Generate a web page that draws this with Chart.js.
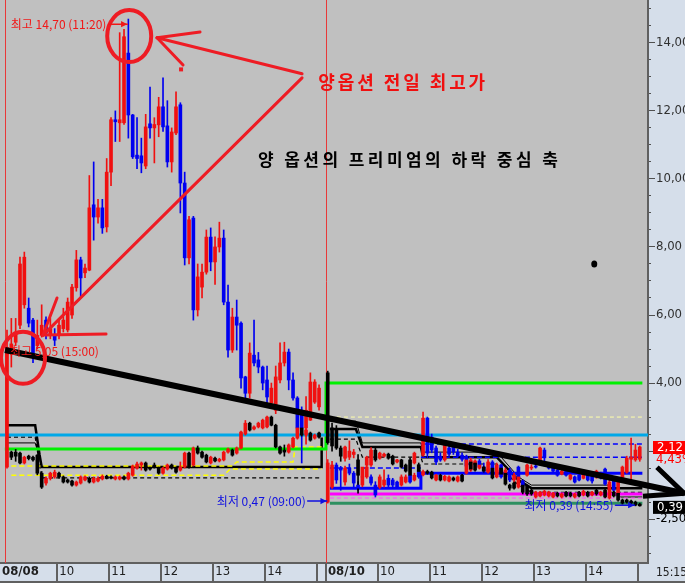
<!DOCTYPE html>
<html><head><meta charset="utf-8">
<script src="https://cdn.jsdelivr.net/npm/chart.js@4.4.1/dist/chart.umd.min.js"></script>
<style>html,body{margin:0;padding:0;background:#d5deea;overflow:hidden}canvas{display:block}</style>
</head><body><canvas id="c" width="685" height="583"></canvas>
<script>
// ---------- DATA ----------
// 5-minute candles [open, high, low, close]; day 1 = 08/08, day 2 = 08/10 (09:00 .. 15:00)
const callDay1 = [
[4.85,5.56,4.68,5.05],[5.0,5.9,4.47,5.15],[5.2,5.9,5.1,5.5],[5.7,7.7,5.6,7.5],[6.3,7.85,6.2,7.7],
[6.2,6.5,5.65,5.76],[5.85,5.9,4.6,4.88],[5.1,5.85,5.0,5.4],[5.4,6.3,5.35,5.7],[5.85,5.95,5.3,5.47],
[5.4,5.9,5.3,5.6],[5.41,5.6,5.1,5.26],[5.4,5.85,5.3,5.7],[5.6,6.2,5.5,5.85],[5.56,6.5,5.5,6.38],
[6.0,6.9,5.9,6.82],[6.8,7.9,6.7,7.62],[7.62,7.7,6.53,7.09],[7.24,7.5,7.1,7.38],[7.32,10.1,7.3,9.15],
[9.24,10.5,8.2,8.88],[8.88,9.4,8.7,9.15],[9.15,9.4,8.4,8.56],[8.59,10.6,8.44,10.2],[10.2,11.8,9.8,11.74],
[11.74,12.0,11.1,11.68],[11.65,14.3,11.1,11.74],[11.65,14.4,11.6,14.18],[13.7,14.7,11.2,11.88],[11.88,11.9,10.6,10.65],
[10.7,11.8,10.3,10.6],[10.68,11.2,10.18,10.47],[10.38,11.9,10.3,11.53],[11.62,12.7,11.2,11.5],[11.5,11.8,10.47,11.6],
[11.59,12.4,11.24,12.12],[12.12,12.97,11.4,11.53],[11.56,12.3,10.35,10.5],[10.5,11.5,10.2,11.38],[11.35,12.56,11.3,12.12],
[12.18,12.24,9.0,9.88],[9.88,10.2,7.47,7.68],[7.68,8.9,7.5,8.8],[8.85,8.9,5.85,6.15],[6.15,7.5,5.97,7.12],
[6.82,7.5,6.5,7.26],[7.26,8.5,7.2,8.29],[8.29,8.56,7.3,7.56],[7.56,8.3,6.9,8.0],[8.0,8.73,7.85,8.26],
[8.26,8.5,6.3,6.38],[6.38,6.88,4.76,4.97],[4.97,6.2,4.9,5.94],[5.94,6.44,4.97,5.7],[5.76,5.8,3.85,4.15],
[4.18,4.2,3.5,3.7],[3.7,5.18,3.56,4.88],[4.82,5.85,4.5,4.59],[4.68,4.9,4.3,4.47],[4.47,4.5,3.8,4.0],
[4.09,4.5,3.3,3.59],[3.41,4.0,3.3,3.85],[3.2,4.5,3.1,4.18],[4.09,5.18,4.0,4.59],[4.59,5.2,4.5,4.91],
[4.91,5.0,3.8,4.09],[4.09,4.3,3.5,3.56],[3.56,3.6,2.5,2.68],[3.2,3.3,1.65,2.68],[2.68,3.6,2.2,3.2],
[2.91,4.3,2.9,4.03],[3.44,4.1,3.4,4.03],[3.3,3.95,3.2,3.85]];
const putDay1 = [
[1.53,5.05,1.5,4.9],[1.97,2.0,1.75,1.82],[1.97,2.05,1.7,1.85],[1.94,1.97,1.62,1.65],[1.65,1.85,1.62,1.82],
[1.85,1.88,1.74,1.78],[1.82,1.85,1.7,1.74],[1.88,1.9,1.3,1.35],[1.35,1.4,0.9,0.94],[1.06,1.24,1.0,1.2],
[1.2,1.38,1.15,1.35],[1.24,1.44,1.2,1.38],[1.35,1.38,1.2,1.24],[1.24,1.27,1.06,1.09],[1.15,1.18,1.06,1.09],
[1.12,1.15,0.97,1.0],[1.0,1.12,0.97,1.09],[1.06,1.27,1.03,1.24],[1.15,1.27,1.12,1.24],[1.2,1.24,1.06,1.09],
[1.09,1.24,1.06,1.2],[1.12,1.24,1.09,1.2],[1.18,1.3,1.15,1.26],[1.26,1.29,1.18,1.2],[1.24,1.27,1.18,1.21],
[1.18,1.27,1.15,1.24],[1.18,1.27,1.15,1.24],[1.24,1.27,1.15,1.18],[1.18,1.38,1.15,1.35],[1.29,1.59,1.26,1.56],
[1.5,1.68,1.47,1.62],[1.59,1.68,1.44,1.65],[1.65,1.68,1.41,1.44],[1.5,1.53,1.44,1.47],[1.59,1.65,1.5,1.53],
[1.5,1.53,1.32,1.35],[1.35,1.53,1.32,1.5],[1.47,1.62,1.44,1.59],[1.59,1.62,1.47,1.5],[1.5,1.53,1.35,1.38],
[1.44,1.68,1.41,1.53],[1.53,1.97,1.5,1.94],[1.94,1.97,1.5,1.53],[1.59,2.12,1.56,2.09],[2.09,2.15,1.91,1.94],
[1.97,2.0,1.79,1.82],[1.88,1.91,1.65,1.68],[1.65,1.85,1.62,1.82],[1.79,1.82,1.68,1.71],[1.71,1.79,1.68,1.76],
[1.74,2.0,1.71,1.97],[1.97,2.09,1.94,2.06],[2.03,2.06,1.85,1.88],[1.94,2.12,1.91,2.09],[2.09,2.59,2.06,2.56],
[2.5,2.9,2.47,2.82],[2.82,2.85,2.59,2.62],[2.65,2.74,2.62,2.71],[2.71,2.85,2.68,2.82],[2.68,2.94,2.65,2.91],
[2.71,3.03,2.68,3.0],[3.0,3.03,2.74,2.76],[2.76,2.79,2.09,2.12],[2.12,2.15,1.91,1.94],[2.03,2.18,1.85,1.97],
[1.97,2.21,1.94,2.18],[2.12,2.41,2.09,2.38],[2.38,2.71,2.35,2.68],[2.68,2.71,2.44,2.47],[2.47,2.65,2.44,2.62],
[2.53,2.56,2.29,2.32],[2.38,2.5,2.35,2.47],[2.53,2.56,2.38,2.41]];
const callDay2 = [
[0.5,1.75,0.47,1.65],[0.94,1.7,0.9,1.59],[1.59,1.65,1.05,1.15],[1.5,1.55,0.85,1.44],[1.09,1.56,1.0,1.5],
[1.5,1.62,1.3,1.35],[1.35,1.4,0.95,1.06],[1.0,1.1,0.85,0.91],[1.0,1.3,0.95,1.24],[1.24,1.6,1.2,1.53],
[1.24,1.3,1.0,1.06],[1.0,1.1,0.65,0.71],[0.94,1.3,0.9,1.24],[1.0,1.45,0.95,1.15],[1.2,1.3,0.95,1.0],
[1.15,1.2,0.9,1.0],[1.09,1.12,0.9,0.94],[1.0,1.3,0.97,1.24],[1.09,1.3,1.06,1.24],[1.29,1.35,1.06,1.09],
[1.15,1.35,1.12,1.29],[1.44,1.5,1.2,1.24],[1.88,3.15,1.85,2.97],[2.97,3.0,1.8,1.94],[2.41,2.5,1.95,2.03],
[2.09,2.15,1.6,1.68],[1.85,1.95,1.7,1.74],[1.74,2.3,1.7,2.21],[2.09,2.15,1.85,1.91],[2.12,2.2,1.9,1.97],
[1.97,2.05,1.82,1.85],[1.88,1.95,1.7,1.76],[1.85,1.88,1.5,1.56],[1.44,1.8,1.4,1.74],[1.62,1.74,1.55,1.71],
[1.71,1.76,1.5,1.53],[1.53,1.65,1.35,1.41],[1.41,1.75,1.38,1.68],[1.68,1.72,1.3,1.35],[1.35,1.65,1.3,1.59],
[1.59,1.62,1.2,1.24],[1.24,1.5,1.2,1.44],[1.44,1.5,1.1,1.15],[1.15,1.35,1.05,1.29],[1.53,1.56,1.18,1.21],
[1.12,1.15,0.91,0.97],[1.29,1.62,1.26,1.59],[1.5,1.6,1.45,1.53],[1.56,1.62,1.5,1.53],[1.68,2.12,1.62,2.09],
[2.03,2.09,1.56,1.8],[1.59,1.65,1.47,1.5],[1.5,1.55,1.38,1.41],[1.44,1.5,1.26,1.29],[1.32,1.47,1.3,1.41],
[1.41,1.44,1.26,1.29],[1.18,1.32,1.15,1.29],[1.24,1.27,1.06,1.09],[1.29,1.32,1.12,1.15],[1.2,1.38,1.18,1.35],
[1.29,1.32,1.12,1.15],[1.29,1.32,1.06,1.12],[1.24,1.44,1.2,1.41],[1.35,1.38,1.18,1.21],[1.47,1.5,1.0,1.03],
[0.94,1.15,0.9,1.09],[1.15,1.2,0.82,0.85],[0.71,1.12,0.68,1.09],[1.21,1.56,1.15,1.53],[1.38,1.85,1.35,1.79],
[1.76,2.38,1.15,1.82],[1.74,2.2,1.7,2.03],[1.76,2.15,1.7,2.12]];
const putDay2 = [
[4.3,4.35,2.2,2.25],[2.68,2.82,2.0,2.15],[2.62,2.75,2.05,2.09],[2.09,2.15,1.7,1.85],[1.79,2.15,1.7,2.12],
[1.82,2.3,1.75,2.0],[1.9,2.05,1.8,1.97],[1.74,1.9,0.76,1.29],[1.24,1.4,1.15,1.53],[1.59,1.85,1.55,1.82],
[1.59,2.1,1.55,2.03],[2.03,2.1,1.7,1.74],[1.79,1.97,1.76,1.94],[1.85,1.94,1.82,1.91],[1.91,1.94,1.76,1.79],
[1.85,1.88,1.59,1.62],[1.68,1.76,1.65,1.74],[1.74,1.76,1.5,1.53],[1.59,1.62,1.38,1.41],[1.74,1.8,1.26,1.29],
[1.65,1.97,1.62,1.94],[1.6,1.65,1.38,1.4],[1.3,1.44,1.27,1.4],[1.4,1.44,1.32,1.35],[1.38,1.41,1.18,1.21],
[1.15,1.32,1.12,1.29],[1.29,1.32,1.12,1.15],[1.15,1.29,1.12,1.26],[1.12,1.27,1.09,1.24],[1.21,1.24,1.12,1.15],
[1.12,1.27,1.09,1.24],[1.29,1.32,1.09,1.12],[1.35,1.76,1.32,1.74],[1.68,1.71,1.44,1.47],[1.65,1.68,1.41,1.44],
[1.5,1.62,1.47,1.59],[1.53,1.56,1.38,1.41],[1.38,1.5,1.35,1.47],[1.5,1.53,1.18,1.21],[1.24,1.47,1.21,1.44],
[1.5,1.53,1.29,1.32],[1.35,1.38,1.0,1.03],[1.0,1.03,0.85,0.91],[1.06,1.09,0.88,0.91],[0.94,1.27,0.91,1.24],
[1.0,1.03,0.74,0.79],[0.97,1.0,0.7,0.74],[0.85,0.88,0.7,0.74],[0.65,0.82,0.62,0.79],[0.68,0.82,0.65,0.79],
[0.71,0.85,0.68,0.82],[0.68,0.82,0.65,0.79],[0.65,0.79,0.62,0.76],[0.76,0.79,0.65,0.68],[0.65,0.76,0.62,0.74],
[0.79,0.82,0.65,0.68],[0.76,0.79,0.65,0.68],[0.65,0.76,0.62,0.74],[0.79,0.82,0.65,0.68],[0.71,0.85,0.68,0.82],
[0.79,0.82,0.65,0.68],[0.71,0.82,0.68,0.79],[0.85,0.88,0.7,0.74],[0.71,0.82,0.68,0.79],[0.85,0.88,0.62,0.65],
[0.62,1.06,0.59,1.0],[0.79,0.82,0.65,0.68],[0.76,0.79,0.53,0.56],[0.56,0.59,0.44,0.47],[0.56,0.59,0.47,0.5],
[0.53,0.56,0.44,0.47],[0.5,0.53,0.39,0.41],[0.44,0.47,0.38,0.39]];
const day1Start = 0, day2Start = 74;   // slot index of 09:00 on each day

// reference / indicator lines: [slot, value]
const cyanLine    = [[-2,2.47],[149,2.47]];
const greenLine   = [[-0.5,2.06],[73.6,2.06],[73.6,4.0],[146.6,4.0]];
const paleYellow2 = [[74.5,3.0],[146.6,3.0]];
const magenta2    = [[74.5,0.74],[146.6,0.74]];
const magentaDash2= [[74.5,0.62],[146.6,0.62]];
const seaGreen2   = [[74.5,0.47],[146.6,0.47]];
const blueStep2   = [[74.5,0.91],[95.5,0.91],[95.5,1.35],[146.6,1.35]];
const blueDashA   = [[74.5,1.5],[95.5,1.5]];
const blueDashB   = [[95.5,2.21],[146.6,2.21]];
const blueDashC   = [[95.5,1.82],[146.6,1.82]];
const yellowDash1a= [[1,1.56],[52,1.56],[53,1.68],[66,1.68],[66.5,2.12],[72.6,2.12]];
const yellowDash1b= [[1,1.29],[50,1.29],[51.5,1.47],[72.6,1.47]];
const envSolid1   = [[0,2.76],[6.5,2.76],[7.5,1.9],[8,1.53],[72.6,1.53],[72.6,2.4]];
const envDash1    = [[0,2.41],[6.5,2.41],[8,1.21],[72.6,1.21]];
const envThin1    = [[0,2.24],[6.5,2.24],[8,1.6]];
const envSolid2   = [[74.5,2.65],[80.5,2.65],[82,2.12],[95.5,2.12],[96,1.82],[113,1.82],[118,1.15],[121,0.91],[146.6,0.91]];
const envDash2    = [[74.5,2.35],[80.5,2.35],[82,1.82],[95.5,1.82],[96,1.62],[113,1.62],[118,1.0],[121,0.79],[146.6,0.79]];
const envThin2    = [[74.5,2.88],[80.5,2.88],[82,2.24],[95.5,2.24],[96,1.97],[113,1.97],[118,1.24],[121,1.0],[139,1.0],[141,0.65],[146.6,0.65]];
const trendAxis   = [[-0.46,4.97],[156.2,0.76]];

// axis ticks / labels
const xTickSlots  = [-1.615,11.6,23.6,35.6,47.6,59.6,71.6,73.6,85.6,97.6,109.6,121.6,133.6,145.6];
const xTickLabels = ['08/08','10','11','12','13','14','','08/10','10','11','12','13','14',''];
const yMajorTicks = [0,2,4,6,8,10,12,14];
const yMajorLabels= ['','','4,00','6,00','8,00','10,00','12,00','14,00'];
const lastCall = '2,12', lastCallPct = '4,43%', lastPut = '0,39', sideNote = '-2,50', timeNow = '15:15';

// annotations (slot, value)
const circleMarks = [[28.2,14.2],[3.7,4.74]];
const redStrokes = [
  [[34.62,14.15],[68.08,13.09]],[[34.62,14.15],[44.54,14.32]],[[34.62,14.15],[40.62,13.35]],
  [[68.08,12.97],[8.31,5.41]],[[8.31,5.41],[22.85,5.44]],[[8.31,5.41],[11.54,6.5]]];
const redDot = [40.16,13.22];
const blackDot = [135.5,7.5];
const extremeNotes = [
  {text:'최고 14,70 (11:20)', slot:28, val:14.55, color:'#f01818'},
  {text:'최저 0,47 (09:00)', slot:74, val:0.53, color:'#1010e0'},
  {text:'최저 0,39 (14:55)', slot:145, val:0.41, color:'#1010e0'}];
const prevHighNote = {text:'최고 5,05 (15:00)', slot:0.7, val:4.94};
const title1 = {text:'양옵션 전일 최고가', slot:71.8, val:12.85};
const title2 = {text:'양 옵션의 프리미엄의 하락 중심 축', slot:57.9, val:10.56};

// ---------- CHART ----------
const RED='#f01010', BLUE='#0000f0', BLACK='#000000';
function candles(rows, start, up, down){
  const col = rows.map(r => r[3] >= r[0] ? up : down);
  return [
    {type:'bar', data: rows.map((r,i)=>({x:start+i, y:[r[2],r[1]]})), backgroundColor: col, barThickness:1, grouped:false, order:4, minBarLength:1, borderWidth:0},
    {type:'bar', data: rows.map((r,i)=>({x:start+i, y:[r[0],r[3]]})), backgroundColor: col, barThickness:3, grouped:false, order:3, minBarLength:1, borderWidth:0}
  ];
}
function line(pts, color, w, dash, order, clip){
  return {type:'line', data: pts.map(p=>({x:p[0], y:p[1]})), borderColor: color, borderWidth: w,
    borderDash: dash || [], pointRadius:0, fill:false, tension:0, order: order ?? 6, clip: clip===false ? false : undefined, borderCapStyle:'butt'};
}
const datasets = [
  line(cyanLine,'#00a8e8',3),
  line(greenLine,'#00f000',3),
  line(paleYellow2,'#ffffa8',1,[4,3]),
  line(magenta2,'#ff00ff',3),
  line(magentaDash2,'#ff50ff',1,[4,3]),
  line(seaGreen2,'#2e9060',3),
  line(blueStep2,'#0000ff',3),
  line(blueDashA,'#0000ff',1.5,[5,3]),
  line(blueDashB,'#0000ff',1.5,[5,3]),
  line(blueDashC,'#0000ff',1.5,[5,3]),
  line(yellowDash1a,'#ffff00',1.5,[5,3]),
  line(yellowDash1b,'#ffff00',1.5,[5,3]),
  line(envSolid1,'#000000',2.5),
  line(envDash1,'#000000',1.2,[4,3]),
  line(envThin1,'#000000',1),
  line(envSolid2,'#000000',2.5),
  line(envDash2,'#000000',1.2,[4,3]),
  line(envThin2,'#000000',1),
  ...candles(putDay1, day1Start, RED, BLACK),
  ...candles(callDay1, day1Start, RED, BLUE),
  ...candles(putDay2, day2Start, RED, BLACK),
  ...candles(callDay2, day2Start, RED, BLUE),
  line(trendAxis,'#000000',6,null,1,false)
];

const FONT_NUM = '"Liberation Sans Narrow","DejaVu Sans Condensed",sans-serif';
const FONT_KR = '"Noto Sans CJK KR","Noto Sans",sans-serif';

function arrow(ctx,x1,y1,x2,y2,color,w,head){
  ctx.strokeStyle=color; ctx.fillStyle=color; ctx.lineWidth=w;
  ctx.beginPath(); ctx.moveTo(x1,y1); ctx.lineTo(x2,y2); ctx.stroke();
  const a=Math.atan2(y2-y1,x2-x1);
  ctx.beginPath(); ctx.moveTo(x2,y2);
  ctx.lineTo(x2-head*Math.cos(a-0.45), y2-head*Math.sin(a-0.45));
  ctx.lineTo(x2-head*Math.cos(a+0.45), y2-head*Math.sin(a+0.45));
  ctx.closePath(); ctx.fill();
}
function fitText(ctx,text,x,y,w,font,color){
  ctx.font=font; ctx.fillStyle=color; ctx.textAlign='left'; ctx.textBaseline='middle';
  ctx.letterSpacing='0px';
  const n=[...text].length, base=ctx.measureText(text).width;
  ctx.letterSpacing=((w-base)/(n-1))+'px';
  ctx.fillText(text,x,y);
  ctx.letterSpacing='0px';
}
const noPadV = s => { s.paddingTop = 0; s.paddingBottom = 0; };

const deco = {
  id:'deco',
  beforeDraw(c){
    const {ctx, chartArea:a}=c;
    ctx.save();
    ctx.fillStyle='#d5deea'; ctx.fillRect(0,0,c.width,c.height);
    ctx.fillStyle='#c0c0c0'; ctx.fillRect(a.left,a.top,a.right-a.left,a.bottom-a.top);
    ctx.restore();
  },
  beforeDatasetsDraw(c){
    const {ctx, chartArea:a, scales:{x}}=c;
    ctx.save(); ctx.strokeStyle='#e83838'; ctx.lineWidth=1;
    [-0.46, 73.6].forEach(s=>{ const px=Math.round(x.getPixelForValue(s))+0.5;
      ctx.beginPath(); ctx.moveTo(px,a.top); ctx.lineTo(px,a.bottom); ctx.stroke(); });
    ctx.restore();
  },
  afterDatasetsDraw(c){
    const {ctx, scales:{x,y}}=c;
    const P=(p)=>[x.getPixelForValue(p[0]), y.getPixelForValue(p[1])];
    ctx.save();
    // trend arrow head
    const tip=P(trendAxis[1]);
    ctx.strokeStyle='#000'; ctx.lineWidth=5; ctx.lineCap='butt';
    ctx.beginPath(); ctx.moveTo(tip[0]-27,tip[1]-26); ctx.lineTo(tip[0],tip[1]); ctx.lineTo(tip[0]-41,tip[1]+3); ctx.stroke();
    // red hand drawn marks
    const R='#ee1c24';
    ctx.strokeStyle=R; ctx.lineWidth=4;
    circleMarks.forEach(m=>{ const p=P(m); ctx.beginPath(); ctx.ellipse(p[0],p[1],22,26,0,0,Math.PI*2); ctx.stroke(); });
    ctx.lineWidth=3; ctx.lineCap='round';
    redStrokes.forEach(s=>{ const a=P(s[0]), b=P(s[1]); ctx.beginPath(); ctx.moveTo(a[0],a[1]); ctx.lineTo(b[0],b[1]); ctx.stroke(); });
    const d=P(redDot); ctx.fillStyle=R; ctx.fillRect(d[0]-2,d[1]-2,4,4);
    // black dot
    const bd=P(blackDot); ctx.fillStyle='#000'; ctx.beginPath(); ctx.ellipse(bd[0],bd[1],3,3.5,0,0,Math.PI*2); ctx.fill();
    // extreme notes with arrows
    extremeNotes.forEach(n=>{
      const p=P([n.slot,n.val]);
      arrow(ctx,p[0]-20,p[1],p[0]-1,p[1],n.color,1.5,7);
      ctx.font='12px '+FONT_KR; ctx.fillStyle=n.color; ctx.textAlign='right'; ctx.textBaseline='middle';
      ctx.fillText(n.text,p[0]-22,p[1]);
    });
    { const p=P([prevHighNote.slot,prevHighNote.val]);
      ctx.font='12px '+FONT_KR; ctx.fillStyle='#f01818'; ctx.textAlign='left'; ctx.textBaseline='middle';
      ctx.fillText(prevHighNote.text,p[0],p[1]); }
    // titles
    { const p=P([title1.slot,title1.val]); fitText(ctx,title1.text,p[0],p[1],167,'bold 18px '+FONT_KR,'#f01010'); }
    { const p=P([title2.slot,title2.val]); fitText(ctx,title2.text,p[0],p[1],300,'bold 17px '+FONT_KR,'#000000'); }
    ctx.restore();
  },
  afterDraw(c){
    const {ctx, chartArea:a, scales:{y}}=c;
    ctx.save();
    ctx.textBaseline='middle'; ctx.textAlign='left'; ctx.font='13px '+FONT_NUM;
    const yc=y.getPixelForValue(2.12);
    ctx.fillStyle='#ff0000'; ctx.fillRect(a.right+5,yc-6,40,13);
    ctx.fillStyle='#ffffff'; ctx.fillText(lastCall,a.right+9,yc+0.5);
    ctx.fillStyle='#ff0000'; ctx.fillText(lastCallPct,a.right+8,yc+13);
    const yp=y.getPixelForValue(0.36);
    ctx.fillStyle='#000000'; ctx.fillRect(a.right+5,yp-6,40,13);
    ctx.fillStyle='#ffffff'; ctx.fillText(lastPut,a.right+9,yp+0.5);
    ctx.fillStyle='#000000'; ctx.fillText(sideNote,a.right+8,yp+12);
    // bottom strip pieces
    ctx.fillStyle='#606060'; ctx.fillRect(0,c.height-2,c.width,2);
    ctx.fillStyle='#202020'; ctx.font='12px '+FONT_NUM; ctx.fillText(timeNow,a.right+8,a.bottom+10);
    ctx.restore();
  }
};

new Chart(document.getElementById('c'), {
  type:'bar',
  data:{datasets},
  options:{
    responsive:false, animation:false, devicePixelRatio:1,
    layout:{padding:0},
    plugins:{legend:{display:false}, tooltip:{enabled:false}},
    scales:{
      x:{type:'linear', min:-1.615, max:147.9, offset:false, position:'bottom',
        afterFit:s=>{s.height=20; s.paddingLeft=0; s.paddingRight=0;},
        afterBuildTicks:s=>{s.ticks=xTickSlots.map(v=>({value:v}));},
        ticks:{autoSkip:false, maxRotation:0, minRotation:0, align:'start', labelOffset:2, padding:-19,
          callback:(v,i)=>xTickLabels[i], color:'#202020',
          font:(ctx)=>({family:FONT_NUM, size:13, weight:(xTickLabels[ctx.index]||'').includes('/')?'bold':'normal'})},
        grid:{drawOnChartArea:false, offset:false, tickLength:20, lineWidth:2,
          color:(ctx)=> ctx.index===0 ? 'rgba(0,0,0,0)' : '#606060'},
        border:{display:true, color:'#606060', width:2}},
      yMinor:{type:'linear', position:'right', weight:0, min:-1.29, max:15.26,
        afterFit:s=>{s.width=0; noPadV(s);},
        afterBuildTicks:s=>{const t=[]; for(let v=-1;v<=15;v+=0.5) t.push({value:v}); s.ticks=t;},
        ticks:{display:false}, grid:{drawOnChartArea:false, tickLength:3, color:'#505050', lineWidth:1},
        border:{display:false}},
      y:{type:'linear', position:'right', weight:1, min:-1.29, max:15.26,
        afterFit:s=>{s.width=37; noPadV(s);},
        afterBuildTicks:s=>{s.ticks=yMajorTicks.map(v=>({value:v}));},
        ticks:{callback:(v,i)=>yMajorLabels[i], color:'#303030', padding:1, font:{family:FONT_NUM, size:13}},
        grid:{drawOnChartArea:false, tickLength:7, color:'#505050', lineWidth:1},
        border:{display:true, color:'#606060', width:2}}
    }
  },
  plugins:[deco]
});
</script>
</body></html>
